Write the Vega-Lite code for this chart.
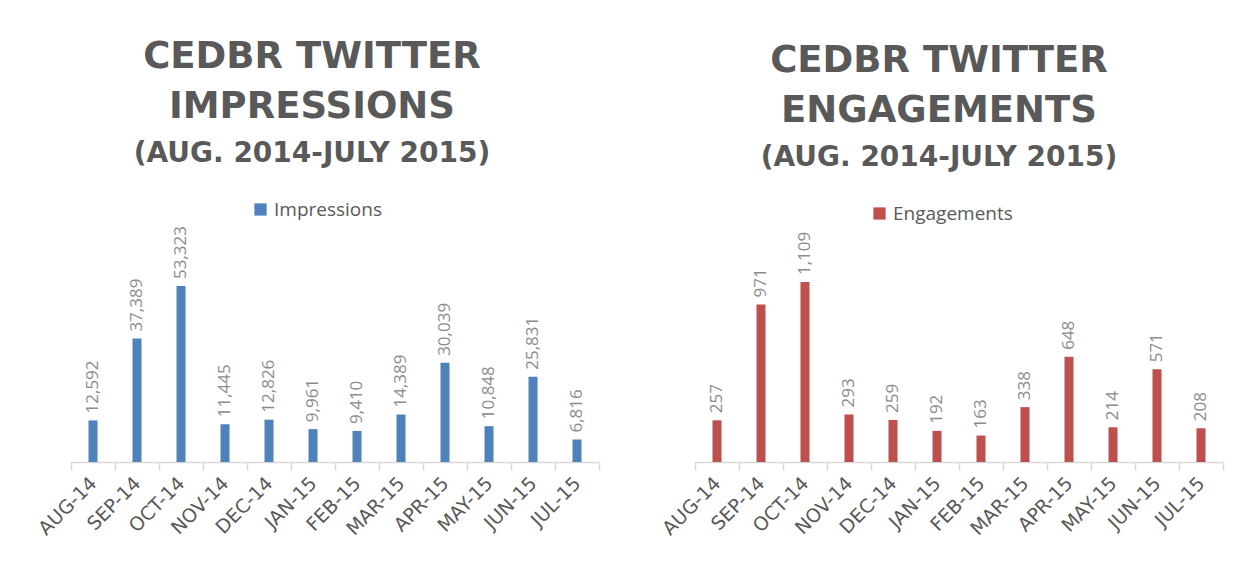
{
  "$schema": "https://vega.github.io/schema/vega-lite/v6.json",
  "background": "white",
  "padding": {"left": 35, "top": 38, "right": 5, "bottom": 5},
  "bounds": "flush",
  "spacing": 96,
  "config": {"view": {"stroke": null}, "font": "Open Sans"},
  "resolve": {"scale": {"color": "independent"}, "legend": {"color": "independent"}},
  "hconcat": [
    {
      "width": 528,
      "height": 198,
      "title": {"text": ["CEDBR TWITTER", "IMPRESSIONS"], "subtitle": "(AUG. 2014-JULY 2015)", "font": "DejaVu Sans", "fontWeight": "bold", "fontSize": 37, "lineHeight": 50, "color": "#595959", "subtitleFont": "DejaVu Sans", "subtitleFontWeight": "bold", "subtitleFontSize": 28, "subtitleColor": "#595959", "subtitlePadding": 14, "offset": 31, "anchor": "middle", "dx": -23},
      "data": {"values": [
        {"month": "AUG-14", "value": 12592},
        {"month": "SEP-14", "value": 37389},
        {"month": "OCT-14", "value": 53323},
        {"month": "NOV-14", "value": 11445},
        {"month": "DEC-14", "value": 12826},
        {"month": "JAN-15", "value": 9961},
        {"month": "FEB-15", "value": 9410},
        {"month": "MAR-15", "value": 14389},
        {"month": "APR-15", "value": 30039},
        {"month": "MAY-15", "value": 10848},
        {"month": "JUN-15", "value": 25831},
        {"month": "JUL-15", "value": 6816}
      ]},
      "encoding": {
        "x": {"field": "month", "type": "nominal", "sort": null, "scale": {"paddingInner": 0, "paddingOuter": 0},
          "axis": {"title": null, "labelAngle": -45, "labelAlign": "right", "labelBaseline": "middle", "labelFont": "DejaVu Sans", "labelFontSize": 19, "labelColor": "#595959", "domainColor": "#d9d9d9", "domainWidth": 1.5, "tickColor": "#d9d9d9", "tickWidth": 1.5, "tickSize": 8, "tickBand": "extent", "labelPadding": 10}},
        "y": {"field": "value", "type": "quantitative", "scale": {"domain": [0, 60000]}, "axis": null}
      },
      "layer": [
        {"mark": {"type": "bar", "width": {"band": 0.205}},
         "encoding": {"color": {"datum": "Impressions", "scale": {"range": ["#4f81bd"]},
           "legend": {"title": null, "orient": "none", "legendX": 180, "legendY": -64, "symbolType": "square", "symbolSize": 150, "labelFontSize": 19, "labelColor": "#595959", "labelFont": "Open Sans"}}}},
        {"mark": {"type": "text", "angle": -90, "align": "left", "baseline": "middle", "dx": 7, "color": "#8c8c8c", "fontSize": 17, "font": "Open Sans"},
         "encoding": {"text": {"field": "value", "format": ","}}}
      ]
    },
    {
      "width": 528,
      "height": 198,
      "title": {"text": ["CEDBR TWITTER", "ENGAGEMENTS"], "subtitle": "(AUG. 2014-JULY 2015)", "font": "DejaVu Sans", "fontWeight": "bold", "fontSize": 37, "lineHeight": 50, "color": "#595959", "subtitleFont": "DejaVu Sans", "subtitleFontWeight": "bold", "subtitleFontSize": 28, "subtitleColor": "#595959", "subtitlePadding": 14, "offset": 31, "anchor": "middle", "dx": -20},
      "data": {"values": [
        {"month": "AUG-14", "value": 257},
        {"month": "SEP-14", "value": 971},
        {"month": "OCT-14", "value": 1109},
        {"month": "NOV-14", "value": 293},
        {"month": "DEC-14", "value": 259},
        {"month": "JAN-15", "value": 192},
        {"month": "FEB-15", "value": 163},
        {"month": "MAR-15", "value": 338},
        {"month": "APR-15", "value": 648},
        {"month": "MAY-15", "value": 214},
        {"month": "JUN-15", "value": 571},
        {"month": "JUL-15", "value": 208}
      ]},
      "encoding": {
        "x": {"field": "month", "type": "nominal", "sort": null, "scale": {"paddingInner": 0, "paddingOuter": 0},
          "axis": {"title": null, "labelAngle": -45, "labelAlign": "right", "labelBaseline": "middle", "labelFont": "DejaVu Sans", "labelFontSize": 19, "labelColor": "#595959", "domainColor": "#d9d9d9", "domainWidth": 1.5, "tickColor": "#d9d9d9", "tickWidth": 1.5, "tickSize": 8, "tickBand": "extent", "labelPadding": 10}},
        "y": {"field": "value", "type": "quantitative", "scale": {"domain": [0, 1220]}, "axis": null}
      },
      "layer": [
        {"mark": {"type": "bar", "width": {"band": 0.205}},
         "encoding": {"color": {"datum": "Engagements", "scale": {"range": ["#c0504d"]},
           "legend": {"title": null, "orient": "none", "legendX": 175, "legendY": -60, "symbolType": "square", "symbolSize": 150, "labelFontSize": 19, "labelColor": "#595959", "labelFont": "Open Sans"}}}},
        {"mark": {"type": "text", "angle": -90, "align": "left", "baseline": "middle", "dx": 7, "color": "#8c8c8c", "fontSize": 17, "font": "Open Sans"},
         "encoding": {"text": {"field": "value", "format": ","}}}
      ]
    }
  ]
}
